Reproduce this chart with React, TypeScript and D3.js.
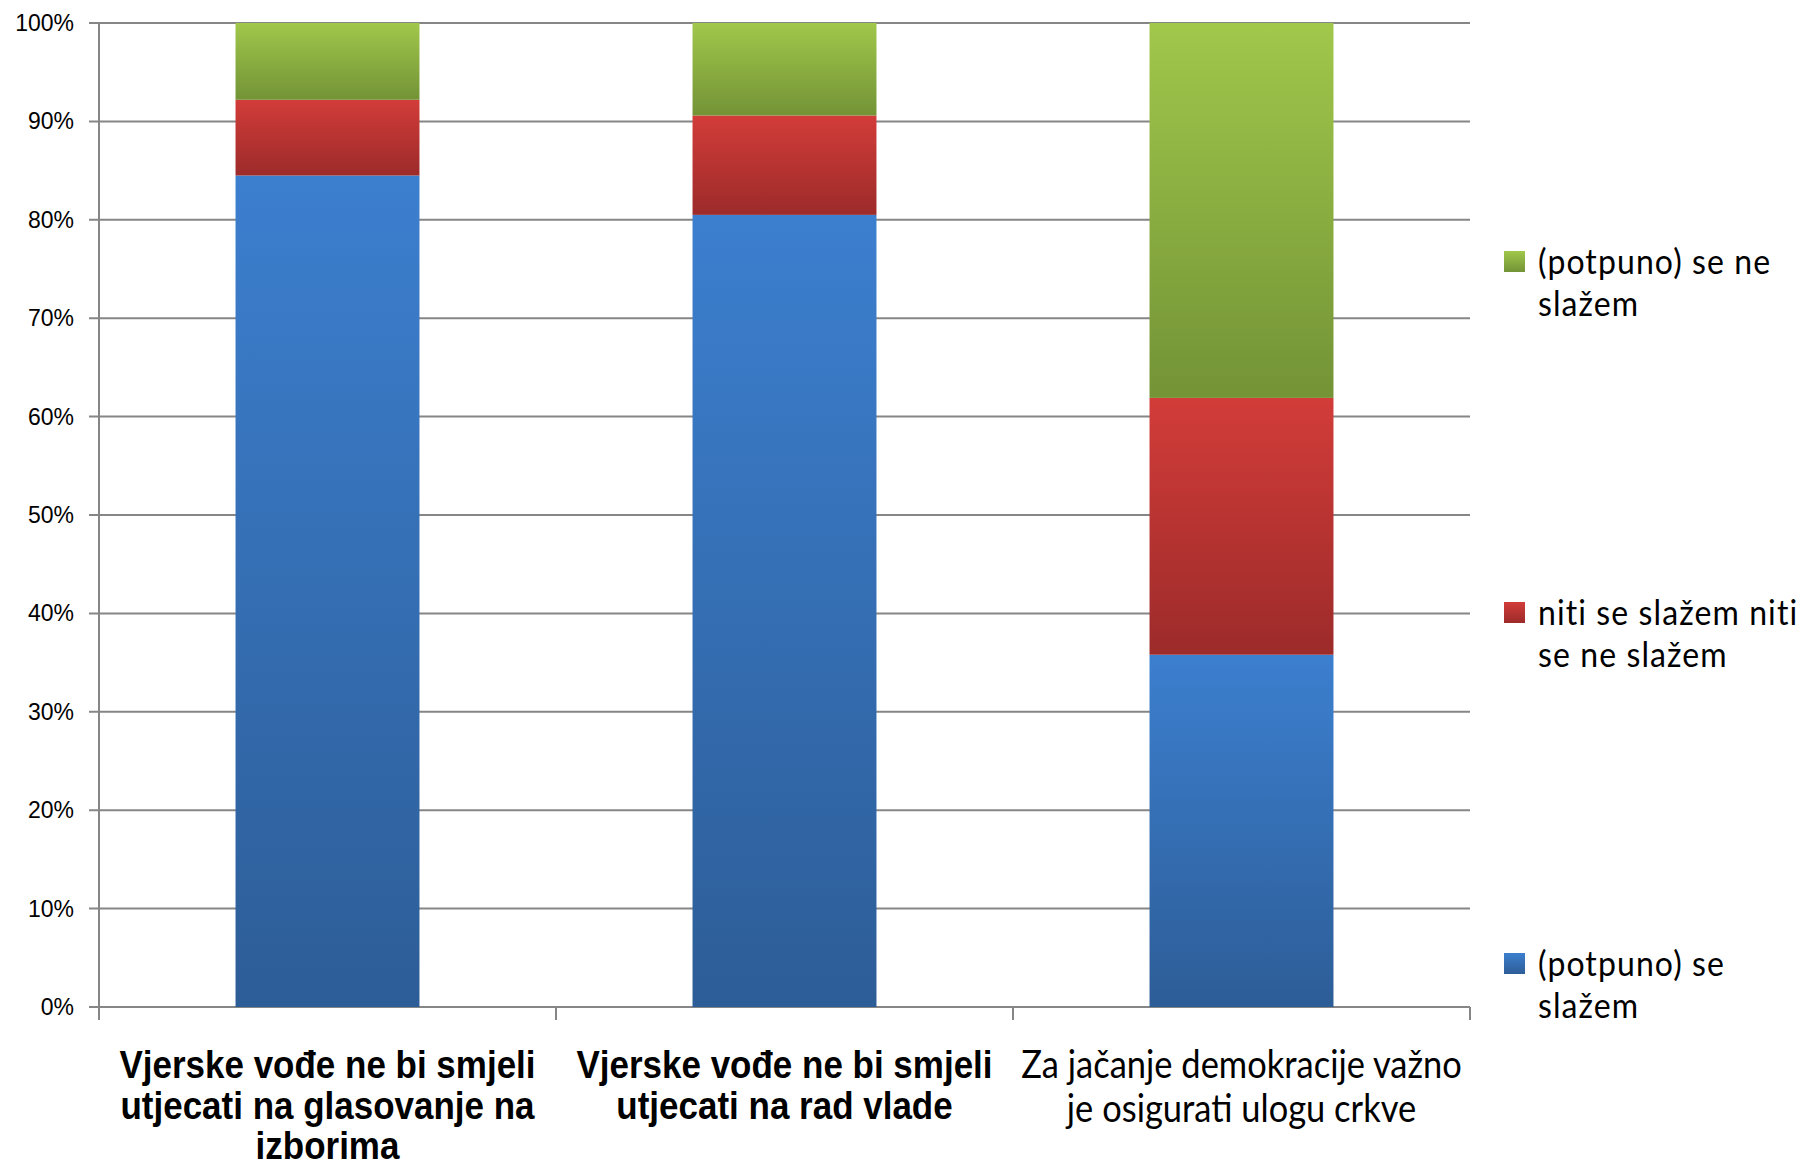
import React from "react";
import * as d3 from "d3";

const categories = ["c1", "c2", "c3"];
const categoryLines: string[][] = [
  ["Vjerske vođe ne bi smjeli", "utjecati na glasovanje na", "izborima"],
  ["Vjerske vođe ne bi smjeli", "utjecati na rad vlade"],
  ["Za jačanje demokracije  važno", "je osigurati ulogu crkve"],
];
const categoryBold = [true, true, false];

const seriesNames = ["slazem", "niti", "neslazem"];
const slazem = [84.5, 80.5, 35.8];
const niti = [7.7, 10.1, 26.1];
const neSlazem = [7.8, 9.4, 38.1];

const legendLines: string[][] = [
  ["(potpuno) se ne", "slažem"],
  ["niti se slažem niti", "se ne slažem"],
  ["(potpuno) se", "slažem"],
];
const legendSeries = ["neslazem", "niti", "slazem"];

const yTicks = [0, 10, 20, 30, 40, 50, 60, 70, 80, 90, 100];

const gradients: Record<string, [string, string]> = {
  slazem: ["#3C7FCF", "#2D5D97"],
  niti: ["#D23C39", "#9C2B2A"],
  neslazem: ["#A1C74B", "#739336"],
};

export default function App() {
  const W = 1799;
  const H = 1166;
  const left = 99;
  const right = 1470;
  const top = 23;
  const bottom = 1007;

  const x = d3.scaleBand<string>().domain(categories).range([left, right]).padding(0);
  const y = d3.scaleLinear().domain([0, 100]).range([bottom, top]);
  const barW = x.bandwidth() * 0.4025;

  const rows = categories.map((c, i) => ({
    cat: c,
    slazem: slazem[i],
    niti: niti[i],
    neslazem: neSlazem[i],
  }));
  const stack = d3.stack<any>().keys(seriesNames);
  const stacked = stack(rows);

  const grid = "#868686";
  const legendTop = [251, 602, 953];

  return (
    <svg
      width={W}
      height={H}
      style={{ position: "absolute", left: 0, top: 0, background: "#fff" }}
    >
      <defs>
        {stacked.map((s) =>
          s.map((d, i) => (
            <linearGradient
              key={`g-${s.key}-${i}`}
              id={`g-${s.key}-${i}`}
              x1="0"
              y1="0"
              x2="0"
              y2="1"
            >
              <stop offset="0" stopColor={gradients[s.key][0]} />
              <stop offset="1" stopColor={gradients[s.key][1]} />
            </linearGradient>
          ))
        )}
        {Object.keys(gradients).map((k) => (
          <linearGradient key={`lg-${k}`} id={`lg-${k}`} x1="0" y1="0" x2="0" y2="1">
            <stop offset="0" stopColor={gradients[k][0]} />
            <stop offset="1" stopColor={gradients[k][1]} />
          </linearGradient>
        ))}
      </defs>

      {/* gridlines */}
      {yTicks.map((t) => (
        <line
          key={`grid-${t}`}
          x1={left - 10}
          x2={right}
          y1={y(t)}
          y2={y(t)}
          stroke={grid}
          strokeWidth={2}
        />
      ))}
      {/* y axis */}
      <line x1={left} x2={left} y1={top} y2={bottom + 13} stroke={grid} strokeWidth={2} />
      {/* category ticks */}
      {categories.map((c) => (
        <line
          key={`ct-${c}`}
          x1={(x(c) as number) + x.bandwidth()}
          x2={(x(c) as number) + x.bandwidth()}
          y1={bottom}
          y2={bottom + 13}
          stroke={grid}
          strokeWidth={2}
        />
      ))}

      {/* y labels */}
      {yTicks.map((t) => (
        <text
          key={`yl-${t}`}
          transform={`translate(74, ${y(t) + 8}) scale(1, 1.05)`}
          textAnchor="end"
          fontFamily="'Liberation Sans', Arial, sans-serif"
          fontSize={23}
          fill="#000"
        >
          {t}%
        </text>
      ))}

      {/* bars */}
      {stacked.map((s) =>
        s.map((d, i) => {
          const cx = (x(categories[i]) as number) + x.bandwidth() / 2;
          return (
            <rect
              key={`b-${s.key}-${i}`}
              x={cx - barW / 2}
              width={barW}
              y={y(d[1])}
              height={y(d[0]) - y(d[1])}
              fill={`url(#g-${s.key}-${i})`}
            />
          );
        })
      )}

      {/* category labels */}
      {categories.map((c, i) => {
        const cx = (x(c) as number) + x.bandwidth() / 2;
        const bold = categoryBold[i];
        const lh = bold ? 40.5 : 43.5;
        return (
          <g key={`cl-${c}`}>
            {categoryLines[i].map((ln, j) => (
              <text
                key={j}
                transform={`translate(${cx}, ${1078 + j * lh}) scale(1, 1.12)`}
                textAnchor="middle"
                fontFamily={bold ? "'Liberation Sans', Arial, sans-serif" : "Lato, 'Open Sans', sans-serif"}
                fontWeight={bold ? 700 : 400}
                fontSize={bold ? 35 : 34.5}
                fill="#000"
              >
                {ln}
              </text>
            ))}
          </g>
        );
      })}

      {/* legend */}
      {legendSeries.map((k, i) => (
        <g key={`lg-${k}`}>
          <rect x={1504} y={legendTop[i]} width={21} height={21} fill={`url(#lg-${k})`} />
          {legendLines[i].map((ln, j) => (
            <text
              key={j}
              transform={`translate(1538, ${legendTop[i] + 23 + j * 42}) scale(1, 1.08)`}
              fontFamily="Lato, 'Open Sans', sans-serif"
              fontSize={32}
              letterSpacing={1.1}
              fill="#000"
            >
              {ln}
            </text>
          ))}
        </g>
      ))}
    </svg>
  );
}
